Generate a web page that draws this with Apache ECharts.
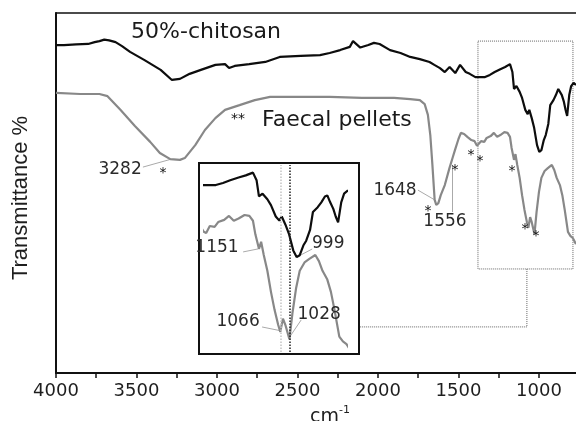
<!DOCTYPE html>
<html>
<head>
<meta charset="utf-8">
<script src="https://cdn.jsdelivr.net/npm/echarts@6.0.0/dist/echarts.min.js"></script>
<style>
html,body{margin:0;padding:0;background:#fff;}
#chart{width:576px;height:421px;}
</style>
</head>
<body>
<div id="chart"></div>
<script>
// ---- data (wavenumber cm-1, transmittance, arbitrary units) ----
const blackWn = [4000,3950,3875,3800,3760,3730,3700,3670,3630,3590,3540,3450,3350,3280,3230,3170,3100,3010,2950,2925,2890,2800,2700,2610,2480,2360,2300,2235,2175,2155,2110,2060,2025,1990,1925,1860,1800,1740,1680,1650,1615,1585,1555,1520,1490,1455,1430,1395,1365,1335,1305,1275,1240,1210,1180,1165,1155,1140,1120,1105,1085,1070,1060,1045,1030,1012,998,985,970,958,942,930,910,895,880,870,858,845,835,825,812,800,785,770];
const blackT  = [91.1,91.1,91.3,91.4,91.9,92.2,92.6,92.4,91.9,90.8,89.2,86.9,84.2,81.4,81.7,83.1,84.2,85.6,85.8,84.7,85.3,85.8,86.4,87.8,88.1,88.3,88.9,89.7,90.6,92.2,90.4,91.1,91.7,91.4,89.7,88.9,87.8,87.2,86.4,85.6,84.7,83.6,85.0,83.3,85.6,83.6,83.1,82.2,82.2,82.2,82.8,83.6,84.4,85.0,85.8,83.6,78.9,79.7,78.1,76.4,73.1,71.9,73.1,70.8,68.1,63.3,61.4,61.9,64.7,66.1,69.2,74.4,75.8,77.2,78.9,79.2,77.2,75.3,73.1,71.4,77.2,79.7,80.6,80.0];

const grayWn = [4000,3850,3730,3680,3600,3510,3415,3355,3290,3230,3200,3135,3075,3010,2950,2860,2765,2670,2500,2300,2100,1900,1800,1740,1710,1690,1675,1662,1648,1638,1625,1610,1585,1556,1535,1520,1500,1485,1465,1445,1420,1400,1385,1375,1360,1340,1325,1300,1280,1260,1240,1215,1195,1180,1170,1155,1146,1135,1120,1105,1090,1075,1066,1055,1045,1028,1015,1000,985,965,945,920,905,890,870,855,840,820,805,790,770];
const grayT  = [77.8,77.5,77.5,76.9,73.1,68.6,64.2,61.1,59.4,59.2,59.7,63.3,67.5,70.8,73.1,74.4,75.8,76.7,76.7,76.7,76.4,76.4,76.1,75.8,74.7,71.7,66.1,57.8,48.1,46.7,47.2,49.4,52.2,56.9,60.0,62.2,65.0,66.7,66.4,65.6,64.7,64.4,63.1,62.8,64.4,64.2,65.3,65.8,66.7,65.6,66.1,66.9,66.7,65.6,62.5,59.2,60.8,57.8,54.2,49.4,45.3,41.9,40.3,43.3,41.9,38.6,44.7,50.3,54.2,56.1,56.9,57.8,56.4,54.2,52.2,49.4,45.3,39.2,38.1,37.5,35.8];

const tickValues  = [4000,3750,3500,3250,3000,2750,2500,2250,2000,1750,1500,1250,1000];
const labelValues = [4000,3500,3000,2500,2000,1500,1000];

const seriesNames = ['50%-chitosan','Faecal pellets'];
const seriesNameWn = [3068, 2255];
const seriesNameT  = [94.7, 70.3];

const peakText = ['3282','1648','1556'];
const peakWn   = [3602, 1894, 1584];
const peakT    = [56.4, 50.6, 42.2];

const starText = ['*','**','*','*','*','*','*','*','*'];
const starWn   = [3335, 2870, 1689, 1522, 1422, 1366, 1168, 1087, 1019];
const starT    = [56.4, 71.4, 45.8, 57.2, 61.4, 59.7, 56.9, 40.6, 38.9];

const leaderMain = [[[3460,57.2],[3292,59.3]], [[1752,50.8],[1648,48.1]], [[1540,44.7],[1540,57.8]]];

const boxWn = [1379, 789];
const boxT  = [92.2, 28.9];
const connector = [[1075,28.9],[1075,12.8],[2112,12.8]];

// inset
const insetRange = [790, 1380];
const insetGrayText = ['1151','1066','1028'];
const insetGrayWn   = [1330, 1242, 904];
const insetGrayT    = [59.4, 42.6, 44.2];
const insetGrayLeaders = [[[1221,58.5],[1157,59.2]], [[1142,41.4],[1070,40.6]], [[979,43.0],[1026,39.2]]];
const insetBlackText = ['999'];
const insetBlackWn   = [866];
const insetBlackT    = [65.4];
const insetBlackLeaders = [[[933,63.7],[996,61.4]]];
const insetMarks = [1066, 1028];

// ---- build ----
const zip = (a,b) => a.map((v,i)=>[v,b[i]]);
const FONT = 'DejaVu Sans';

const chart = echarts.init(document.getElementById('chart'), null, {renderer:'canvas'});

const insetRect = {type:'rect', id:'insetBox', z:1, shape:{x:199, y:163, width:160, height:191},
     style:{fill:'rgba(0,0,0,0)', stroke:'#111', lineWidth:2}};

const option = {
  animation:false,
  backgroundColor:'#fff',
  grid:[
    {left:56, right:0, top:13, bottom:48, containLabel:false, outerBoundsMode:'none'},
    {left:205, right:229.5, top:165, bottom:69, containLabel:false, outerBoundsMode:'none'}
  ],
  xAxis:[
    {gridIndex:0, type:'value', min:770, max:4000, inverse:true, position:'bottom',
     axisLine:{show:true, onZero:false, lineStyle:{color:'#111', width:2}},
     axisTick:{show:true, inside:false, length:5, customValues:tickValues, lineStyle:{color:'#111', width:1.5}},
     axisLabel:{show:true, customValues:labelValues, margin:9, color:'#1e1e1e', fontFamily:FONT, fontSize:18,
                formatter:v=>String(v)},
     splitLine:{show:false},
     name:'{a|cm}{b|-1}', nameLocation:'middle', nameGap:27,
     nameTextStyle:{padding:[0,0,0,28], rich:{
       a:{fontFamily:FONT, fontSize:19, color:'#1e1e1e', lineHeight:22, verticalAlign:'bottom'},
       b:{fontFamily:FONT, fontSize:11, color:'#1e1e1e', lineHeight:22, verticalAlign:'top'}}}
    },
    {gridIndex:0, type:'value', min:770, max:4000, inverse:true, position:'top',
     axisLine:{show:true, onZero:false, lineStyle:{color:'#111', width:1.5}},
     axisTick:{show:false}, axisLabel:{show:false}, splitLine:{show:false}},
    {gridIndex:1, type:'value', min:insetRange[0], max:insetRange[1], inverse:true, show:false}
  ],
  yAxis:[
    {gridIndex:0, type:'value', min:0, max:100,
     axisLine:{show:true, onZero:false, lineStyle:{color:'#111', width:2}},
     axisTick:{show:false}, axisLabel:{show:false}, splitLine:{show:false},
     name:'Transmittance %', nameLocation:'middle', nameGap:24,
     nameTextStyle:{fontFamily:'Liberation Sans', fontSize:22, color:'#1e1e1e', padding:[0,10,0,0]}},
    {gridIndex:1, type:'value', min:33.9, max:88.0, show:false},
    {gridIndex:1, type:'value', min:35.7, max:78.3, show:false}
  ],
  graphic:[insetRect],
  series:[
    {type:'line', name:seriesNames[0], xAxisIndex:0, yAxisIndex:0, data:zip(blackWn,blackT),
     symbol:'none', lineStyle:{color:'#0d0d0d', width:2.2}, z:4},
    {type:'line', name:seriesNames[1], xAxisIndex:0, yAxisIndex:0, data:zip(grayWn,grayT),
     symbol:'none', lineStyle:{color:'#888', width:2.2}, z:3},
    {type:'line', name:'inset-black', xAxisIndex:2, yAxisIndex:1, data:zip(blackWn,blackT),
     symbol:'none', clip:true, lineStyle:{color:'#0d0d0d', width:2.2}, z:4},
    {type:'line', name:'inset-gray', xAxisIndex:2, yAxisIndex:2, data:zip(grayWn,grayT),
     symbol:'none', clip:true, lineStyle:{color:'#888', width:2.2}, z:3,
     markLine:{silent:true, symbol:'none', label:{show:false},
       data:[
         {xAxis:insetMarks[0], lineStyle:{color:'#c4c4c4', type:'dotted', width:1.5}},
         {xAxis:insetMarks[1], lineStyle:{color:'#222', type:'dotted', width:1.5}}
       ]}},
    {type:'lines', coordinateSystem:'cartesian2d', xAxisIndex:0, yAxisIndex:0, silent:true, z:2,
     lineStyle:{color:'#aaa', width:1, opacity:1},
     data: leaderMain.map(c=>({coords:c}))},
    {type:'lines', coordinateSystem:'cartesian2d', xAxisIndex:0, yAxisIndex:0, polyline:true, silent:true, z:2,
     lineStyle:{color:'#666', width:1, type:'dotted', opacity:1},
     data:[
       {coords:[[boxWn[0],boxT[0]],[boxWn[1],boxT[0]],[boxWn[1],boxT[1]],[boxWn[0],boxT[1]],[boxWn[0],boxT[0]]]},
       {coords:connector}
     ]},
    {type:'lines', coordinateSystem:'cartesian2d', xAxisIndex:2, yAxisIndex:2, silent:true, z:2,
     lineStyle:{color:'#aaa', width:1, opacity:1},
     data: insetGrayLeaders.map(c=>({coords:c}))},
    {type:'lines', coordinateSystem:'cartesian2d', xAxisIndex:2, yAxisIndex:1, silent:true, z:2,
     lineStyle:{color:'#aaa', width:1, opacity:1},
     data: insetBlackLeaders.map(c=>({coords:c}))}
  ]
};
chart.setOption(option);

// annotation texts placed through the axes' own scales
const texts = [];
const addTexts = (arr, wn, t, size, xi, yi, color, dy) => {
  arr.forEach((s,i) => {
    const p = chart.convertToPixel({xAxisIndex:xi, yAxisIndex:yi}, [wn[i], t[i]]);
    texts.push({type:'text', z:10, x:p[0], y:p[1] + (dy||0),
      style:{text:s, fill:color, font:size + 'px "' + FONT + '"', align:'center', verticalAlign:'middle'}});
  });
};
addTexts(seriesNames, seriesNameWn, seriesNameT, 22, 0, 0, '#1a1a1a');
addTexts(peakText, peakWn, peakT, 17, 0, 0, '#2a2a2a');
addTexts(starText, starWn, starT, 14, 0, 0, '#111', 3);
addTexts(insetGrayText, insetGrayWn, insetGrayT, 17, 2, 2, '#2a2a2a');
addTexts(insetBlackText, insetBlackWn, insetBlackT, 17, 2, 1, '#2a2a2a');
chart.setOption({graphic:[insetRect].concat(texts)});
</script>
</body>
</html>
